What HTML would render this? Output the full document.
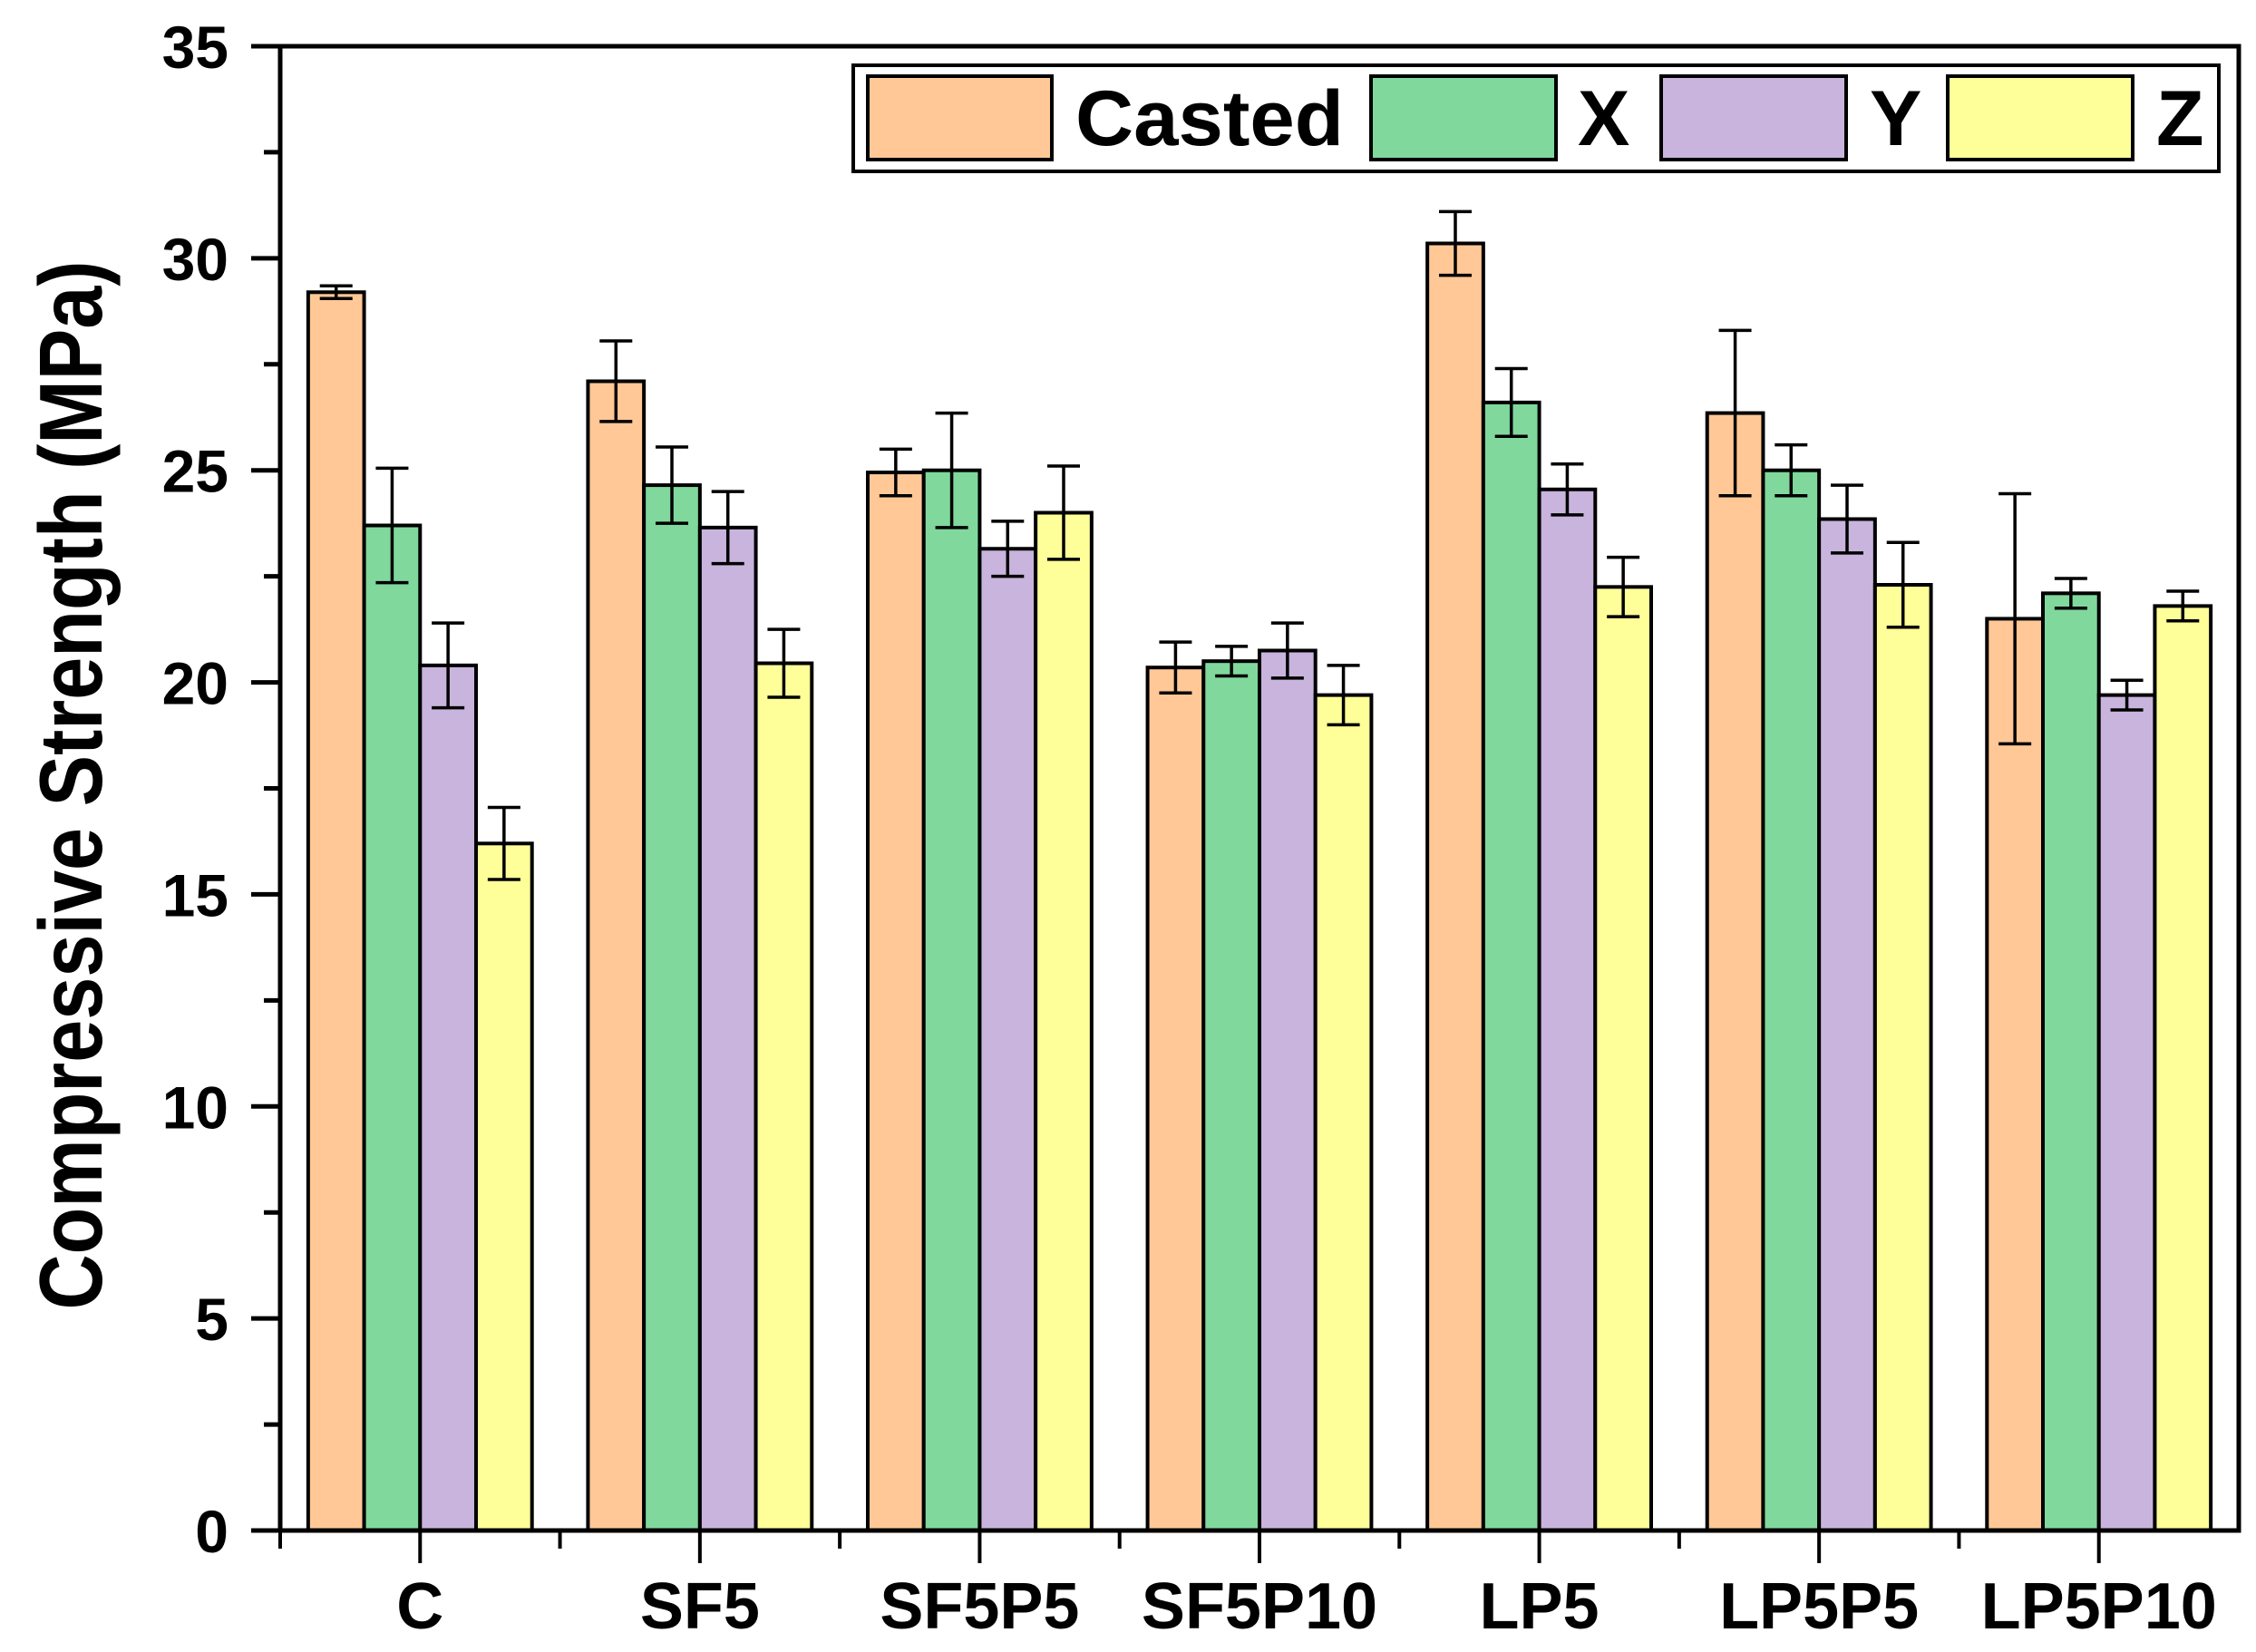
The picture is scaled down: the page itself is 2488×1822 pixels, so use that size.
<!DOCTYPE html>
<html><head><meta charset="utf-8"><style>
html,body{margin:0;padding:0;background:#fff;}
svg{display:block;font-family:"Liberation Sans",Arial,sans-serif;font-weight:bold;}
</style></head><body>
<svg id="chart" width="2488" height="1822" viewBox="0 0 2488 1822" xmlns="http://www.w3.org/2000/svg">
<rect x="0" y="0" width="2488" height="1822" fill="#fff"/>
<g id="plot"></g>
<text x="0" y="0" transform="translate(112,866) rotate(-90)" text-anchor="middle" font-size="98" textLength="1157" lengthAdjust="spacingAndGlyphs">Compressive Strength (MPa)</text>
<g>
<rect x="941" y="72" width="1506" height="117" fill="#fff" stroke="#000" stroke-width="4"/>
<g>
<rect x="957" y="84" width="203" height="92" fill="#FFC896" stroke="#000" stroke-width="4"/>
<text x="1186" y="160" font-size="86" textLength="296" lengthAdjust="spacingAndGlyphs">Casted</text>
</g>
<g>
<rect x="1512" y="84" width="204" height="92" fill="#80D89C" stroke="#000" stroke-width="4"/>
<text x="1740" y="160" font-size="86">X</text>
</g>
<g>
<rect x="1832" y="84" width="204" height="92" fill="#C8B4DC" stroke="#000" stroke-width="4"/>
<text x="2062" y="160" font-size="86">Y</text>
</g>
<g>
<rect x="2148" y="84" width="204" height="92" fill="#FFFF99" stroke="#000" stroke-width="4"/>
<text x="2378" y="160" font-size="86">Z</text>
</g>
</g>
</svg>
<script>
const categories = ["C","SF5","SF5P5","SF5P10","LP5","LP5P5","LP5P10"];
const casted = [29.2, 27.1, 24.95, 20.35, 30.35, 26.35, 21.5];
const castedErr = [0.15, 0.95, 0.55, 0.6, 0.75, 1.95, 2.95];
const xVals = [23.7, 24.65, 25.0, 20.5, 26.6, 25.0, 22.1];
const xErr = [1.35, 0.9, 1.35, 0.35, 0.8, 0.6, 0.35];
const yVals = [20.4, 23.65, 23.15, 20.75, 24.55, 23.85, 19.7];
const yErr = [1.0, 0.85, 0.65, 0.65, 0.6, 0.8, 0.35];
const zVals = [16.2, 20.45, 24.0, 19.7, 22.25, 22.3, 21.8];
const zErr = [0.85, 0.8, 1.1, 0.7, 0.7, 1.0, 0.35];
const yTicks = [0,5,10,15,20,25,30,35];
const seriesNames = ["casted","x","y","z"];
const seriesColors = ["#FFC896","#80D89C","#C8B4DC","#FFFF99"];

const NS = "http://www.w3.org/2000/svg";
const L = 309, R = 2469, T = 51, B = 1688;
const yMin = 0, yMax = 35;
function yScale(v){ return B - (v - yMin) / (yMax - yMin) * (B - T); }
const band = (R - L) / categories.length;
function xCenter(i){ return L + band * (i + 0.5); }
const barW = band * 0.2;
const plot = document.getElementById('plot');
function mk(tag, attrs){ const e = document.createElementNS(NS, tag); for (const k in attrs) e.setAttribute(k, attrs[k]); plot.appendChild(e); return e; }

const series = [[casted,castedErr],[xVals,xErr],[yVals,yErr],[zVals,zErr]];
categories.forEach((cat, i) => {
  series.forEach((s, j) => {
    const v = s[0][i], er = s[1][i];
    const x0 = xCenter(i) - 2 * barW + j * barW;
    const r = mk('rect', {x: x0, y: yScale(v), width: barW, height: B - yScale(v), fill: seriesColors[j], stroke: '#000', 'stroke-width': 4});
    
    
    const cx = x0 + barW / 2;
    const eb = mk('path', {d: `M${cx},${yScale(v+er)}V${yScale(v-er)}M${cx-18},${yScale(v+er)}H${cx+18}M${cx-18},${yScale(v-er)}H${cx+18}`, stroke: '#000', 'stroke-width': 3.5, fill: 'none'});
    
    
  });
});

// axes frame
const frame = mk('path', {d: `M${L},${T}H${R}V${B}H${L}Z`, fill: 'none', stroke: '#000', 'stroke-width': 5});



// y ticks
yTicks.forEach(t => {
  const y = yScale(t);
  const tk = mk('line', {x1: L - 32, x2: L, y1: y, y2: y, stroke: '#000', 'stroke-width': 5});
  
  
  const lb = mk('text', {x: 252, y: y + 24, 'text-anchor': 'end', 'font-size': 66});
  lb.textContent = t;
  
  
  if (t < yMax) {
    const m = yScale(t + 2.5);
    const mt = mk('line', {x1: L - 18, x2: L, y1: m, y2: m, stroke: '#000', 'stroke-width': 5});
    
    
  }
});

// x ticks
categories.forEach((cat, i) => {
  const cx = xCenter(i);
  const tk = mk('line', {x1: cx, x2: cx, y1: B, y2: B + 36, stroke: '#000', 'stroke-width': 4});
  
  
  const bx = L + band * i;
  const mt = mk('line', {x1: bx, x2: bx, y1: B, y2: B + 20, stroke: '#000', 'stroke-width': 4});
  
  
  const lb = mk('text', {x: cx, y: 1796, 'text-anchor': 'middle', 'font-size': 72});
  lb.textContent = cat;
  
  
});
</script>
</body></html>
